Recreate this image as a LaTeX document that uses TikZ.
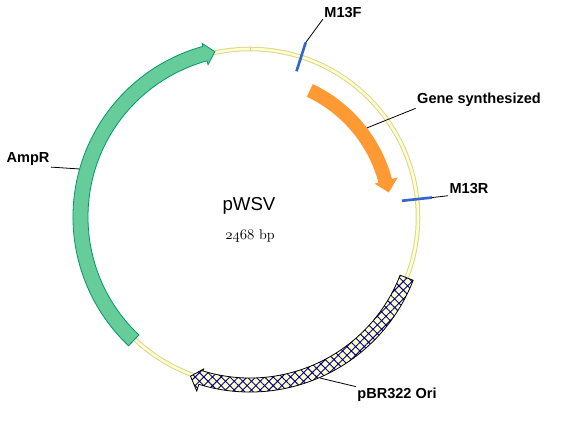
\documentclass[tikz,border=0pt]{standalone}
\usepackage{fontspec}
\setsansfont{Liberation Sans}
\usetikzlibrary{patterns.meta}

\definecolor{backbone}{RGB}{255,255,204}
\definecolor{backedge}{RGB}{218,212,150}
\definecolor{ampgreen}{RGB}{102,204,153}
\definecolor{ampedge}{RGB}{0,153,102}
\definecolor{geneorange}{RGB}{255,153,51}
\definecolor{primerblue}{RGB}{51,102,204}
\definecolor{orinavy}{RGB}{0,0,140}

\tikzset{
  lbl/.style={font=\sffamily\bfseries\fontsize{10.9}{13}\selectfont, inner sep=1pt},
  leader/.style={draw=black, line width=0.6pt},
  primer/.style={draw=primerblue, line width=2pt},
}

\begin{document}
\begin{tikzpicture}[x=0.75pt,y=0.75pt]
\useasboundingbox (-250,-225) rectangle (314,217);

% backbone
\draw[backedge, line width=3.4pt] (0,0) circle (168);
\draw[backbone, line width=1.9pt] (0,0) circle (168);
\draw[backedge, line width=0.5pt] (90:166) -- (90:170);

% AmpR
\filldraw[fill=ampgreen, draw=ampedge, line width=0.6pt]
  (226.7:162) arc[start angle=226.7, end angle=105.4, radius=162]
  -- (105.4:158) -- (102:169) -- (105.4:180) -- (105.4:177)
  arc[start angle=105.4, end angle=226.7, radius=177] -- cycle;

% gene synthesized
\fill[geneorange]
  (64.7:133) arc[start angle=64.7, end angle=15, radius=133]
  -- (15:129) -- (10:141) -- (15:153) -- (15:147)
  arc[start angle=15, end angle=64.7, radius=147] -- cycle;

% pBR322 ori
\draw[black, line width=0.6pt, preaction={fill=backbone},
      pattern={Hatch[angle=45, distance=4.6pt, line width=0.7pt]}, pattern color=orinavy]
  (-21.2:161) arc[start angle=-21.2, end angle=-107, radius=161]
  -- (-107:159) -- (-110.5:170) -- (-107:182) -- (-107:175)
  arc[start angle=-107, end angle=-21.2, radius=175] -- cycle;

% primers
\coordinate (m13fIn) at (72.3:153);
\coordinate (m13fOut) at (72.3:183);
\coordinate (m13rIn) at (6.1:153);
\coordinate (m13rOut) at (6.1:183);
\draw[primer] (m13fIn) -- (m13fOut);
\draw[primer] (m13rIn) -- (m13rOut);

% label anchors on the features
\coordinate (geneEdge) at (37.3:147);
\coordinate (ampEdge) at (164.3:177.6);
\coordinate (oriEdge) at (-66.5:175.6);

% labels
\node[lbl] (M13F) at (93,204.5) {M13F};
\node[lbl] (M13R) at (219,28) {M13R};
\node[lbl] (gene) at (229,117) {Gene synthesized};
\node[lbl] (AmpR) at (-222,58) {AmpR};
\node[lbl] (ori) at (147,-178) {pBR322 Ori};

\draw[leader] (m13fOut) -- (M13F.south west);
\draw[leader] (m13rOut) -- (M13R.south west);
\draw[leader] (geneEdge) -- (gene.south west);
\draw[leader] (ampEdge) -- (AmpR.south east);
\draw[leader] (oriEdge) -- (ori.north west);

% name and size
\node[font=\sffamily\fontsize{14}{16}\selectfont] (name) at (-1,11) {pWSV};
\node[font=\fontsize{10.5}{12}\selectfont] (size) at (0,-19) {$\mathnormal{2468}$ bp};
\end{tikzpicture}
\end{document}
